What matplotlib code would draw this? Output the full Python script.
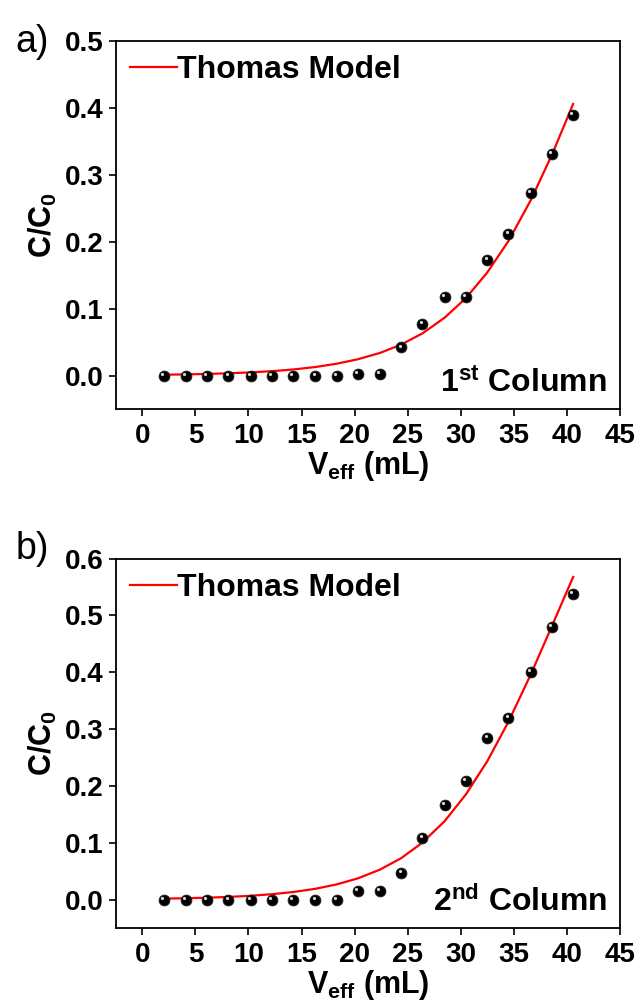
import matplotlib
matplotlib.use("Agg")
import matplotlib.pyplot as plt
import matplotlib.transforms as mtransforms

plt.rcParams['font.family'] = ['Liberation Sans', 'DejaVu Sans']
plt.rcParams['font.weight'] = 'bold'
plt.rcParams['mathtext.fontset'] = 'custom'
plt.rcParams['mathtext.rm'] = 'Liberation Sans:bold'
plt.rcParams['mathtext.bf'] = 'Liberation Sans:bold'
plt.rcParams['mathtext.it'] = 'Liberation Sans:bold'

# ---- data ----
v_eff = [2.0, 4.1, 6.1, 8.1, 10.2, 12.2, 14.2, 16.3, 18.3, 20.3,
         22.4, 24.4, 26.4, 28.5, 30.5, 32.5, 34.5, 36.6, 38.6, 40.6]

col1_exp = [0.000, 0.000, 0.000, 0.000, 0.000, 0.000, 0.000, 0.000, 0.000, 0.002,
            0.002, 0.042, 0.077, 0.117, 0.117, 0.173, 0.211, 0.273, 0.331, 0.389]
col1_model = [0.0013, 0.0018, 0.0025, 0.0034, 0.0048, 0.0066, 0.0091, 0.0128, 0.0177, 0.0244,
              0.0339, 0.0464, 0.0631, 0.0867, 0.116, 0.154, 0.201, 0.262, 0.330, 0.406]

col2_exp = [0.000, 0.000, 0.000, 0.000, 0.000, 0.000, 0.000, 0.000, 0.000, 0.015,
            0.015, 0.046, 0.108, 0.167, 0.208, 0.284, 0.320, 0.400, 0.480, 0.537]
col2_model = [0.0016, 0.0023, 0.0033, 0.0046, 0.0066, 0.0094, 0.0132, 0.0189, 0.0266, 0.0372,
              0.0527, 0.0729, 0.1003, 0.1382, 0.1852, 0.2432, 0.3128, 0.3958, 0.4813, 0.5676]

x_ticks = [0, 5, 10, 15, 20, 25, 30, 35, 40, 45]
panels = [
    dict(exp=col1_exp, model=col1_model, ymax=0.5, yticks=[0.0, 0.1, 0.2, 0.3, 0.4, 0.5],
         tag='a)', sup='st', num='1', tag_y=1 - 42 / 1008),
    dict(exp=col2_exp, model=col2_model, ymax=0.6, yticks=[0.0, 0.1, 0.2, 0.3, 0.4, 0.5, 0.6],
         tag='b)', sup='nd', num='2', tag_y=1 - 549 / 1008),
]

fig = plt.figure(figsize=(6.4, 10.08), dpi=100)
rects = [[0.181, 0.5942, 0.7875, 0.3651], [0.181, 0.0794, 0.7875, 0.3665]]

for rect, p in zip(rects, panels):
    ax = fig.add_axes(rect)
    ax.plot(v_eff, p['model'], color='#ff0000', lw=1.6, label='Thomas Model', zorder=2)
    ax.plot(v_eff, p['exp'], ls='none', marker='o', ms=7.8, mfc='black', mec='#222222',
            mew=0.6, zorder=3)
    hl = mtransforms.offset_copy(ax.transData, fig=fig, x=-1.2, y=1.4, units='points')
    ax.plot(v_eff, p['exp'], ls='none', marker='o', ms=2.3, mfc='#d8d8d8', mec='none',
            transform=hl, zorder=4)

    ax.set_xlim(-2.5, 45)
    ax.set_ylim(-0.05, p['ymax'])
    ax.set_xticks(x_ticks)
    ax.set_yticks(p['yticks'])
    ax.set_yticklabels([f'{t:.1f}' for t in p['yticks']])
    ax.tick_params(direction='out', length=5, width=1.2, labelsize=20, pad=4,
                   top=False, right=False)
    ax.tick_params(axis='x', pad=5)
    for lab in ax.get_xticklabels() + ax.get_yticklabels():
        lab.set_fontweight('bold')
    for s in ax.spines.values():
        s.set_linewidth(1.3)

    ax.set_xlabel(r'V$_{\mathbf{eff}}$ (mL)', fontsize=22, fontweight='bold', labelpad=0)
    ax.set_ylabel(r'C/C$_{\mathbf{0}}$', fontsize=22, fontweight='bold', labelpad=4)

    leg = ax.legend(loc='upper left', frameon=False, fontsize=23, handlelength=1.45,
                    handletextpad=0.0, borderaxespad=0.25, borderpad=0.2)
    for t in leg.get_texts():
        t.set_fontweight('bold')

    ax.text(0.975, 0.045, p['num'] + r'$^{\mathbf{' + p['sup'] + r'}}$ Column',
            transform=ax.transAxes, ha='right', va='baseline', fontsize=23,
            fontweight='bold')

    fig.text(0.024, p['tag_y'], p['tag'], fontsize=27, fontweight='normal',
             family=['Liberation Sans', 'DejaVu Sans'], ha='left', va='center')

fig.savefig('out.png', dpi=100, facecolor='white')
